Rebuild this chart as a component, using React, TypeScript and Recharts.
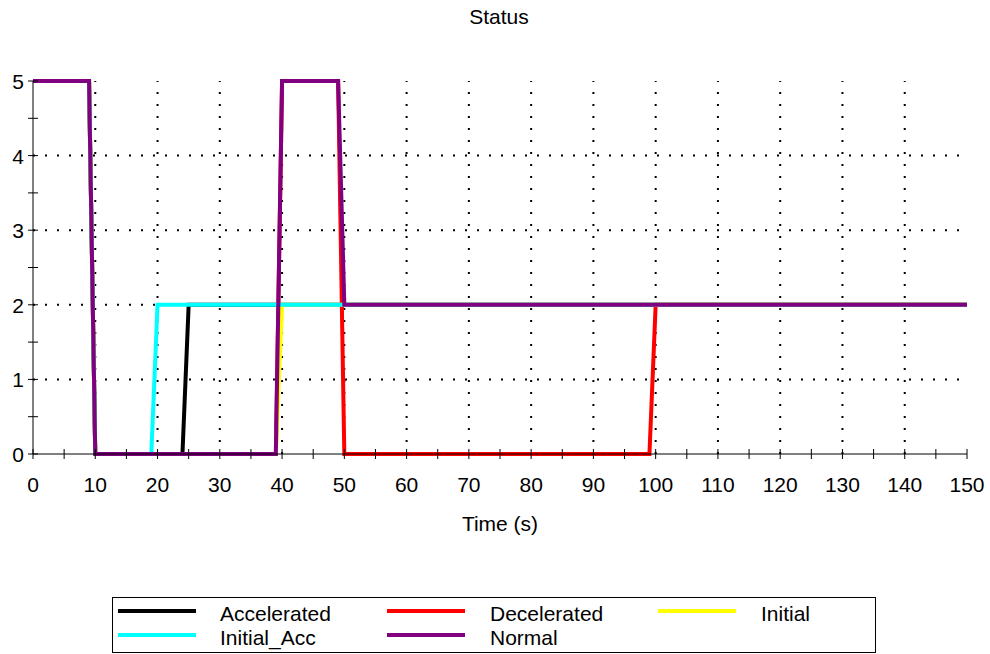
import { LineChart, Line, XAxis, YAxis, ReferenceLine } from "recharts";

// time (s) breakpoints and status values per series
const accTime = [0, 9, 10, 24, 25, 150];
const accVal = [5, 5, 0, 0, 2, 2];
const decTime = [0, 9, 10, 39, 40, 49, 50, 99, 100, 150];
const decVal = [5, 5, 0, 0, 5, 5, 0, 0, 2, 2];
const initTime = [0, 9, 10, 39, 40, 150];
const initVal = [5, 5, 0, 0, 2, 2];
const initAccTime = [0, 9, 10, 19, 20, 150];
const initAccVal = [5, 5, 0, 0, 2, 2];
const normTime = [0, 9, 10, 39, 40, 49, 50, 150];
const normVal = [5, 5, 0, 0, 5, 5, 2, 2];

const xTicks = [0, 5, 10, 15, 20, 25, 30, 35, 40, 45, 50, 55, 60, 65, 70, 75, 80, 85, 90, 95, 100, 105, 110, 115, 120, 125, 130, 135, 140, 145, 150];
const yTicks = [0, 0.5, 1, 1.5, 2, 2.5, 3, 3.5, 4, 4.5, 5];
const xGrid = [10, 20, 30, 40, 50, 60, 70, 80, 90, 100, 110, 120, 130, 140];
const yGrid = [1, 2, 3, 4];

const zip = (t: number[], v: number[]) => t.map((time, i) => ({ time, value: v[i] }));

const series = [
  { name: "Accelerated", color: "#000000", data: zip(accTime, accVal) },
  { name: "Decelerated", color: "#ff0000", data: zip(decTime, decVal) },
  { name: "Initial", color: "#ffff00", data: zip(initTime, initVal) },
  { name: "Initial_Acc", color: "#00ffff", data: zip(initAccTime, initAccVal) },
  { name: "Normal", color: "#800080", data: zip(normTime, normVal) },
];

const FONT = "'Liberation Sans', Arial, sans-serif";

const XTick = ({ x, y, payload }: any) => {
  const major = payload.value % 10 === 0;
  return (
    <g>
      <line x1={x} x2={x} y1={y - 5} y2={y + 5} stroke="#000" />
      {major && (
        <text x={x} y={y + 38} textAnchor="middle" fontSize={21} fontFamily={FONT} fill="#000">
          {payload.value}
        </text>
      )}
    </g>
  );
};

const YTick = ({ x, y, payload }: any) => {
  const major = Number.isInteger(payload.value);
  return (
    <g>
      <line x1={x - 5} x2={x + 5} y1={y} y2={y} stroke="#000" />
      {major && (
        <text x={x - 9} y={y + 8} textAnchor="end" fontSize={21} fontFamily={FONT} fill="#000">
          {payload.value}
        </text>
      )}
    </g>
  );
};

export default function App() {
  return (
    <div style={{ position: "absolute", left: 0, top: 0, width: 990, height: 654, background: "#fff", fontFamily: FONT }}>
      <div style={{ position: "absolute", left: 0, top: 5, width: 998, textAlign: "center", fontSize: 21 }}>Status</div>
      <LineChart width={990} height={654} data={[]} margin={{ top: 81, right: 23, left: 0, bottom: 0 }}>
        <XAxis
          dataKey="time"
          type="number"
          domain={[0, 150]}
          ticks={xTicks}
          interval={0}
          height={200}
          tick={<XTick />}
          tickLine={false}
          tickSize={0}
          tickMargin={0}
          axisLine={{ stroke: "#000" }}
          allowDataOverflow
        />
        <XAxis xAxisId="top" orientation="top" type="number" domain={[0, 150]} height={0} tick={false} tickLine={false} axisLine={{ stroke: "#000" }} />
        <YAxis
          type="number"
          domain={[0, 5]}
          ticks={yTicks}
          interval={0}
          width={33}
          tick={<YTick />}
          tickLine={false}
          tickSize={0}
          tickMargin={0}
          axisLine={{ stroke: "#000" }}
        />
        <YAxis yAxisId="right" orientation="right" domain={[0, 5]} width={0} tick={false} tickLine={false} axisLine={{ stroke: "#000" }} />
        {xGrid.map((v) => (
          <ReferenceLine key={`gx${v}`} x={v} stroke="#000" strokeWidth={2} strokeDasharray="2 10" />
        ))}
        {yGrid.map((v) => (
          <ReferenceLine key={`gy${v}`} y={v} stroke="#000" strokeWidth={2} strokeDasharray="2 10" />
        ))}
        {series.map((s) => (
          <Line
            key={s.name}
            data={s.data}
            dataKey="value"
            name={s.name}
            type="linear"
            stroke={s.color}
            strokeWidth={4}
            dot={false}
            isAnimationActive={false}
          />
        ))}
      </LineChart>
      <div style={{ position: "absolute", left: 0, top: 512, width: 1000, textAlign: "center", fontSize: 21 }}>Time (s)</div>
      <div style={{ position: "absolute", left: 112, top: 597, width: 764, height: 56, border: "1px solid #000", boxSizing: "border-box" }}>
        {series.map((s, i) => {
          const col = i % 3;
          const row = Math.floor(i / 3);
          const lineLeft = [5, 274, 545][col];
          const textLeft = [107, 377, 648][col];
          return (
            <div key={s.name}>
              <div style={{ position: "absolute", left: lineLeft, top: 11 + row * 24, width: 78, height: 4, background: s.color }} />
              <div style={{ position: "absolute", left: textLeft, top: 4 + row * 24, fontSize: 21, lineHeight: "24px" }}>{s.name}</div>
            </div>
          );
        })}
      </div>
    </div>
  );
}
